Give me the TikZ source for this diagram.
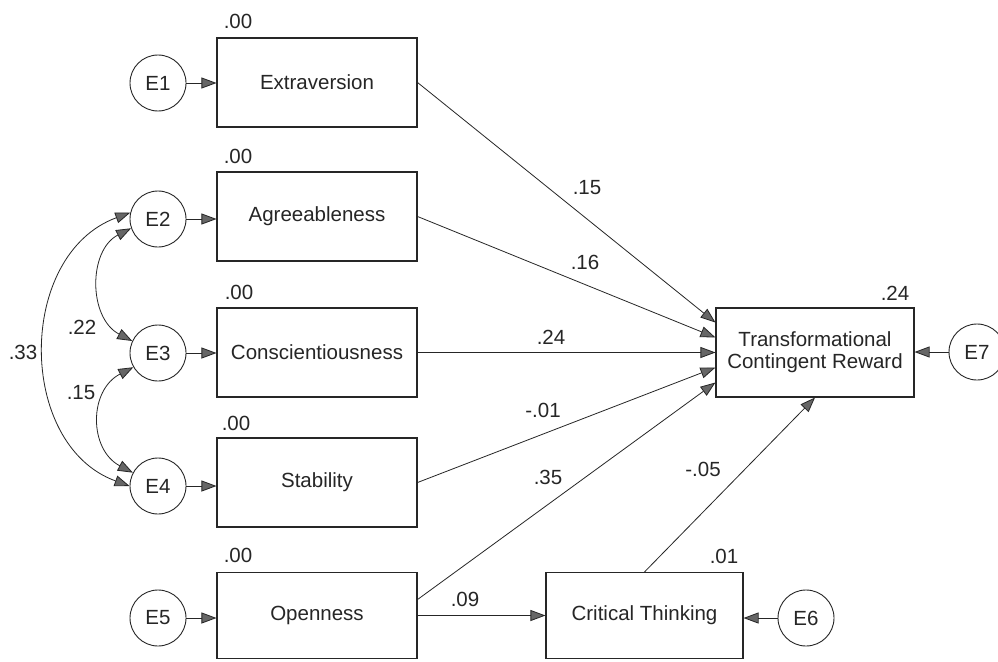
\documentclass[tikz,border=0pt]{standalone}
\usepackage{fontspec}
\setmainfont{Liberation Sans}
\usetikzlibrary{arrows.meta,calc}

\begin{document}
\begin{tikzpicture}[x=1pt,y=-1pt,
  every node/.style={font=\fontsize{20.5}{22}\selectfont, text=black!85},
  var/.style={draw=black!85, line width=1.1pt, minimum width=200pt, minimum height=89pt, inner sep=0pt, align=center},
  err/.style={circle, draw=black!85, line width=0.9pt, minimum size=56pt, inner sep=0pt},
  num/.style={inner sep=0pt},
  head/.tip={Triangle[length=15pt,width=11pt,fill=black!60]},
  path/.style={draw=black!85, line width=0.8pt, -head},
  cov/.style={draw=black!85, line width=0.8pt, head-head}
]
\useasboundingbox (0,0) rectangle (998,661);
\fill[white] (0,0) rectangle (998,661);

% observed variables
\node[var] (X) at (317,82.5) {Extraversion};
\node[var] (A) at (317,216.5) {Agreeableness};
\node[var] (C) at (317,352.5) {Conscientiousness};
\node[var] (S) at (317,482.5) {Stability};
\node[var, minimum height=86pt] (O) at (317,615.5) {Openness};
\node[var, minimum width=197pt, minimum height=86pt] (CT) at (644.5,615.5) {Critical Thinking};
\node[var, minimum width=198pt] (T) at (815,352.5) {Transformational\\Contingent Reward};

% error terms
\node[err] (E1) at (158,83) {E1};
\node[err] (E2) at (158,219) {E2};
\node[err] (E3) at (158,353) {E3};
\node[err] (E4) at (158,486) {E4};
\node[err] (E5) at (158,618) {E5};
\node[err] (E6) at (806,618) {E6};
\node[err] (E7) at (977,352) {E7};

% squared multiple correlations
\node[num] (rX) at (238,21) {.00};
\node[num] (rA) at (238,156) {.00};
\node[num] (rC) at (239,292) {.00};
\node[num] (rS) at (236,423) {.00};
\node[num] (rO) at (238,555) {.00};
\node[num] (rT) at (895,293) {.24};
\node[num] (rCT) at (724,556) {.01};

% error paths
\draw[path] (E1) -- (E1 -| X.west);
\draw[path] (E2) -- (E2 -| A.west);
\draw[path] (E3) -- (E3 -| C.west);
\draw[path] (E4) -- (E4 -| S.west);
\draw[path] (E5) -- (E5 -| O.west);
\draw[path] (E6) -- (E6 -| CT.east);
\draw[path] (E7) -- (E7 -| T.east);

% structural paths
\coordinate (tX) at ($(T.west)+(0,-30)$);
\coordinate (tA) at ($(T.west)+(0,-15)$);
\coordinate (tS) at ($(T.west)+(0,15)$);
\coordinate (tO) at ($(T.west)+(0,30)$);
\coordinate (oO) at ($(O.east)+(0,-16)$);
\draw[path] (X.east) -- (tX);
\draw[path] (A.east) -- (tA);
\draw[path] (C.east) -- (T.west);
\draw[path] (S.east) -- (tS);
\draw[path] (oO) -- (tO);
\draw[path] (O.east) -- (CT.west);
\draw[path] (CT.north) -- (T.south);

% path coefficients
\node[num] (bX) at (587,188) {.15};
\node[num] (bA) at (585,262) {.16};
\node[num] (bC) at (551,337) {.24};
\node[num] (bS) at (543,410) {-.01};
\node[num] (bO) at (548,477) {.35};
\node[num] (bCT) at (703,469) {-.05};
\node[num] (bOC) at (465,599) {.09};

% covariances among errors
\draw[cov] (E2.167) .. controls +(-114,42) and +(-113,-41) .. (E4.180);
\draw[cov] (E2.199) .. controls +(-43,22) and +(-44,-23) .. (E3.155);
\draw[cov] (E3.210) .. controls +(-45,23) and +(-44,-23) .. (E4.152);
\node[num] (c24) at (23,352) {.33};
\node[num] (c23) at (82,327) {.22};
\node[num] (c34) at (81,393) {.15};
\end{tikzpicture}
\end{document}
